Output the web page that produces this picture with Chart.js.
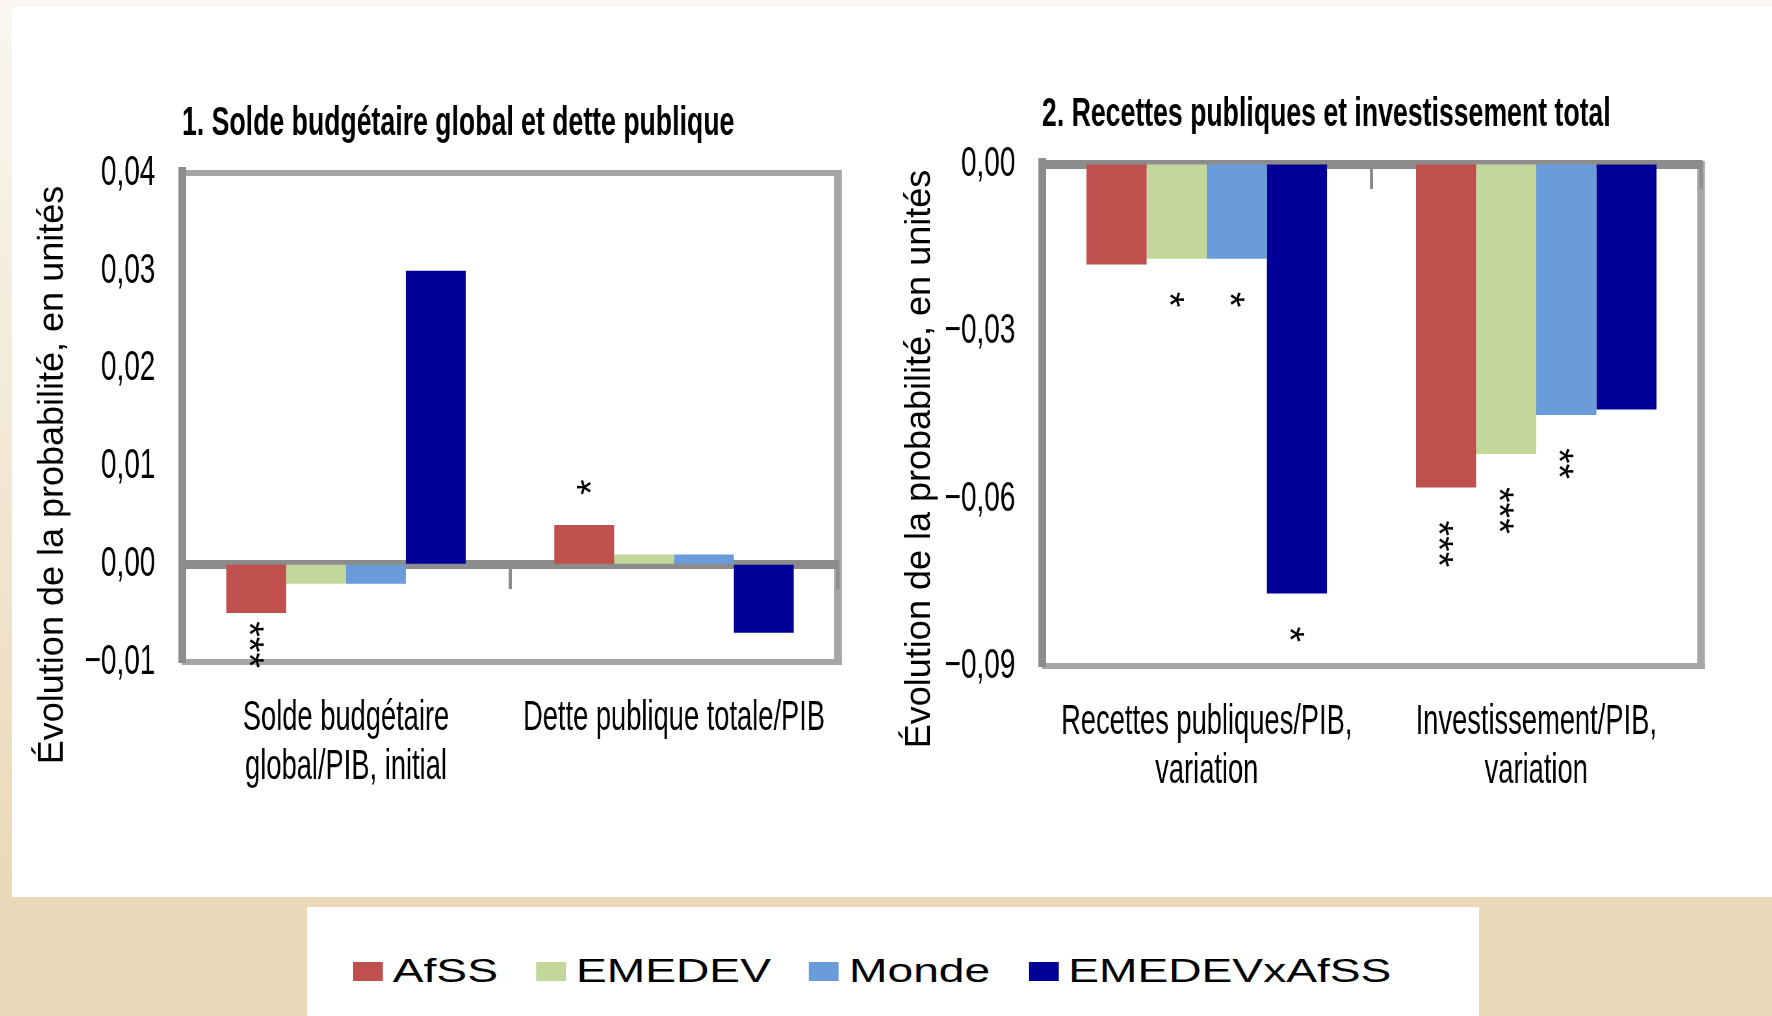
<!DOCTYPE html>
<html>
<head>
<meta charset="utf-8">
<script src="https://cdn.jsdelivr.net/npm/chart.js@4.4.1/dist/chart.umd.min.js"></script>
<style>
  html, body { margin: 0; padding: 0; }
  body {
    width: 1772px; height: 1016px; overflow: hidden; position: relative;
    background: linear-gradient(to bottom, #faf7f1 0px, #ead9b8 897px, #ead9b8 1016px);
    font-family: "Liberation Sans", Arial, sans-serif;
  }
  #sheet { position: absolute; left: 12px; top: 7px; width: 1760px; height: 890px; background: #fff; }
  .panel { position: absolute; top: 0; transform-origin: 0 0; }
  #legendBox { position: absolute; left: 307px; top: 907px; width: 1172px; height: 109px; background: #fff; }
  #legend {
    position: absolute; left: 353px; top: 952px; display: flex; align-items: center;
    font-size: 32.5px; line-height: 38px; color: #000; white-space: nowrap;
    transform: scaleX(1.42); transform-origin: 0 50%;
  }
  #legend .item { display: flex; align-items: center; margin-right: 27px; }
  #legend .sw { width: 21px; height: 19px; margin-right: 7px; }
</style>
</head>
<body>
<div id="sheet"></div>
<canvas id="soldeChart" class="panel"></canvas>
<canvas id="recettesChart" class="panel"></canvas>
<div id="legendBox"></div>
<div id="legend"></div>
<script>
// series shared by both panels
const seriesNames = ['AfSS', 'EMEDEV', 'Monde', 'EMEDEVxAfSS'];
const seriesColors = ['#c0504d', '#c4d79b', '#6a9bdb', '#000099'];

// panel 1
const soldeTitle = '1. Solde budgétaire global et dette publique';
const soldeLabels = [['Solde budgétaire', 'global/PIB, initial'], 'Dette publique totale/PIB'];
const soldeAfss = [-0.005, 0.004];
const soldeEmedev = [-0.002, 0.001];
const soldeMonde = [-0.002, 0.001];
const soldeCross = [0.030, -0.007];
const soldeSig = [['***', '*'], ['', ''], ['', ''], ['', '']];
const soldeTicks = [-0.01, 0.00, 0.01, 0.02, 0.03, 0.04];

// panel 2
const recettesTitle = '2. Recettes publiques et investissement total';
const recettesLabels = [['Recettes publiques/PIB,', 'variation'], ['Investissement/PIB,', 'variation']];
const recettesAfss = [-0.018, -0.058];
const recettesEmedev = [-0.017, -0.052];
const recettesMonde = [-0.017, -0.045];
const recettesCross = [-0.077, -0.044];
const recettesSig = [['', '***'], ['*', '***'], ['*', '**'], ['*', '']];
const recettesTicks = [-0.09, -0.06, -0.03, 0.00];

const yTitle = 'Évolution de la probabilité, en unités';

// the original figure is squeezed horizontally: draw wide, then squeeze with css
const SQUISH = 0.65;
const FONT = '"Liberation Sans", Arial, sans-serif';
const DARK = '#8c8c8c';
const LIGHT = '#a6a6a6';

function fmt(v) {
  const r = Math.round(v * 100) / 100;
  return (r < 0 ? '\u2212' : '') + Math.abs(r).toFixed(2).replace('.', ',');
}

// grey plot frame
const framePlugin = {
  id: 'frame',
  beforeDraw(chart) {
    const {ctx, chartArea: a} = chart;
    ctx.save();
    ctx.strokeStyle = LIGHT;
    ctx.lineWidth = 6;
    ctx.beginPath();
    ctx.moveTo(a.left, a.top); ctx.lineTo(a.right, a.top);
    ctx.moveTo(a.left, a.bottom); ctx.lineTo(a.right + 6, a.bottom);
    ctx.stroke();
    ctx.lineWidth = 12;
    ctx.beginPath();
    ctx.moveTo(a.right, a.top - 3); ctx.lineTo(a.right, a.bottom + 3);
    ctx.stroke();
    ctx.restore();
  }
};

// y title and significance stars, drawn un-squeezed
const textPlugin = {
  id: 'panelText',
  afterDatasetsDraw(chart, args, opts) {
    const {ctx, chartArea} = chart;
    ctx.save();
    ctx.fillStyle = '#000';
    ctx.textBaseline = 'middle';

    ctx.font = '36px ' + FONT;
    ctx.textAlign = 'center';
    ctx.save();
    ctx.translate(opts.titleX, opts.titleY);
    ctx.scale(1 / SQUISH, 1);
    ctx.rotate(-Math.PI / 2);
    ctx.fillText(opts.text, 0, 0);
    ctx.restore();

    ctx.font = '40px ' + FONT;
    ctx.textAlign = 'left';
    chart.data.datasets.forEach((ds, i) => {
      chart.getDatasetMeta(i).data.forEach((bar, j) => {
        const txt = ds.sig[j];
        if (!txt) return;
        const len = ctx.measureText(txt).width;
        const down = bar.y > bar.base;
        let y = down ? bar.y + 33 : bar.y - 30;
        if (down) y = Math.min(y, chartArea.bottom + 6 - len);
        ctx.save();
        ctx.translate(bar.x, y);
        ctx.scale(1 / SQUISH, 1);
        ctx.rotate(down ? Math.PI / 2 : -Math.PI / 2);
        // asterisks sit high in the em box, pull them back onto the bar axis
        ctx.fillText(txt, 0, 9);
        ctx.restore();
      });
    });
    ctx.restore();
  }
};

function makePanel(id, p) {
  const canvas = document.getElementById(id);
  const w = Math.round(p.width / SQUISH);
  canvas.width = w; canvas.height = 897;
  canvas.style.width = w + 'px'; canvas.style.height = '897px';
  canvas.style.left = p.left + 'px';
  canvas.style.transform = 'scaleX(' + SQUISH + ')';

  const axisW = (p.areaLeft - p.left) / SQUISH;
  const padRight = w - (p.areaRight - p.left) / SQUISH;

  return new Chart(canvas, {
    type: 'bar',
    data: {
      labels: p.labels,
      datasets: p.values.map((vals, i) => ({
        label: seriesNames[i],
        data: vals,
        sig: p.sig[i],
        backgroundColor: seriesColors[i],
        borderWidth: 0,
        barPercentage: 1,
        categoryPercentage: 0.73
      }))
    },
    options: {
      responsive: false,
      devicePixelRatio: 1,
      animation: false,
      layout: { padding: { left: 0, right: padRight, top: 0, bottom: 0 } },
      scales: {
        x: {
          grid: { display: false },
          border: { display: false },
          ticks: {
            color: '#000', font: { family: FONT, size: 42, lineHeight: 1.16 },
            padding: 24, maxRotation: 0, autoSkip: false
          },
          afterFit: s => { s.height = 897 - p.areaBottom; }
        },
        x2: {
          axis: 'x',
          type: 'category',
          position: { y: 0 },
          offset: true,
          z: 1,
          grid: { display: true, offset: true, drawOnChartArea: false, drawTicks: true, tickLength: 20, color: DARK, lineWidth: 5 },
          border: { display: true, color: DARK, width: 9 },
          ticks: { display: false }
        },
        y: {
          min: p.ticks[0],
          max: p.ticks[p.ticks.length - 1],
          grid: { display: true, drawTicks: false, color: 'rgba(0,0,0,0)' },
          border: { display: true, color: DARK, width: 12 },
          ticks: {
            stepSize: p.ticks[1] - p.ticks[0],
            color: '#000', font: { family: FONT, size: 43 },
            padding: 41,
            callback: v => fmt(v)
          },
          afterFit: s => { s.width = axisW; }
        }
      },
      plugins: {
        legend: { display: false },
        tooltip: { enabled: false },
        title: {
          display: true,
          text: p.title,
          align: 'start',
          fullSize: false,
          color: '#000',
          font: { family: FONT, size: 41, weight: 'bold' },
          padding: { top: p.titleMid - 24.6, bottom: p.areaTop - p.titleMid - 24.6 }
        },
        panelText: {
          text: yTitle,
          titleX: (p.yTitleX - p.left) / SQUISH,
          titleY: p.yTitleY
        }
      }
    },
    plugins: [framePlugin, textPlugin]
  });
}

makePanel('soldeChart', {
  left: 12, width: 858,
  areaLeft: 182, areaRight: 838, areaTop: 173, areaBottom: 662,
  titleMid: 124, yTitleX: 53, yTitleY: 475,
  title: soldeTitle, labels: soldeLabels,
  values: [soldeAfss, soldeEmedev, soldeMonde, soldeCross],
  sig: soldeSig, ticks: soldeTicks
});

makePanel('recettesChart', {
  left: 870, width: 902,
  areaLeft: 1042, areaRight: 1701, areaTop: 164, areaBottom: 666,
  titleMid: 115, yTitleX: 920, yTitleY: 459,
  title: recettesTitle, labels: recettesLabels,
  values: [recettesAfss, recettesEmedev, recettesMonde, recettesCross],
  sig: recettesSig, ticks: recettesTicks
});

// legend below both panels
const legend = document.getElementById('legend');
seriesNames.forEach((name, i) => {
  const item = document.createElement('span');
  item.className = 'item';
  const sw = document.createElement('span');
  sw.className = 'sw';
  sw.style.background = seriesColors[i];
  item.appendChild(sw);
  item.appendChild(document.createTextNode(name));
  legend.appendChild(item);
});
</script>
</body>
</html>
